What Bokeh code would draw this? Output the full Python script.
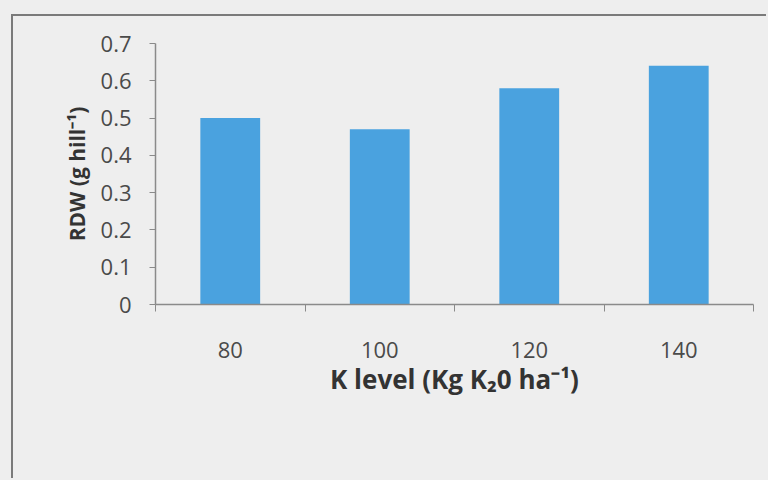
from bokeh.plotting import figure
from bokeh.models import FixedTicker, ColumnDataSource
from bokeh.embed import file_html
from bokeh.resources import INLINE

# data
categories = ["80", "100", "120", "140"]
rdw = [0.50, 0.47, 0.58, 0.64]
y_ticks = [0, 0.1, 0.2, 0.3, 0.4, 0.5, 0.6, 0.7]
x_title = "K level (Kg K\u20820 ha\u207b\u00b9)"
y_title = "RDW (g hill\u207b\u00b9)"

xs = list(range(1, len(categories) + 1))
src = ColumnDataSource(dict(x=xs, top=rdw, cat=categories))

paper = "#eeeeee"
p = figure(width=755, height=464, output_backend="svg", toolbar_location=None,
           x_range=(0.5, len(categories) + 0.5), y_range=(0, 0.7),
           min_border_left=142, min_border_right=15, min_border_top=27, min_border_bottom=176)
p.styles = {"margin-left": "11px", "margin-top": "14px",
            "border-left": "2px solid #7a7a7a", "border-top": "2px solid #7a7a7a"}
p.background_fill_color = paper
p.border_fill_color = paper
p.outline_line_color = None
p.grid.visible = False

p.vbar(x="x", top="top", width=0.4, bottom=0, source=src, fill_color="#4aa2df", line_color=None)

# x axis
xa = p.xaxis[0]
xa.ticker = FixedTicker(ticks=xs, minor_ticks=[v - 0.5 for v in xs] + [xs[-1] + 0.5])
xa.major_label_overrides = {v: c for v, c in zip(xs, categories)}
xa.major_tick_line_color = None
xa.major_tick_out = 0
xa.major_tick_in = 0
xa.minor_tick_out = 7
xa.minor_tick_in = 0
xa.minor_tick_line_color = "#8a8a8a"
xa.axis_line_color = "#8a8a8a"
xa.axis_line_width = 1.5
xa.major_label_text_font = "Open Sans"
xa.major_label_text_font_size = "22px"
xa.major_label_text_color = "#4a4a4a"
xa.major_label_standoff = 30
xa.axis_label = x_title
xa.axis_label_text_font = "Open Sans"
xa.axis_label_text_font_style = "bold"
xa.axis_label_text_font_size = "26px"
xa.axis_label_text_color = "#333333"
xa.axis_label_standoff = 0

# y axis
ya = p.yaxis[0]
ya.ticker = FixedTicker(ticks=y_ticks, minor_ticks=[])
ya.major_label_overrides = {0: "0"}
ya.major_tick_out = 6
ya.major_tick_in = 0
ya.major_tick_line_color = "#8a8a8a"
ya.axis_line_color = "#8a8a8a"
ya.axis_line_width = 1.5
ya.major_label_text_font = "Open Sans"
ya.major_label_text_font_size = "22px"
ya.major_label_text_color = "#4a4a4a"
ya.major_label_standoff = 18
ya.axis_label = y_title
ya.axis_label_text_font = "Open Sans"
ya.axis_label_text_font_style = "bold"
ya.axis_label_text_font_size = "21px"
ya.axis_label_text_color = "#333333"
ya.axis_label_standoff = 7

html = file_html(p, INLINE)
html = html.replace("</head>", "<style>html, body { background: %s; }</style></head>" % paper, 1)
open("out.html", "w").write(html)
